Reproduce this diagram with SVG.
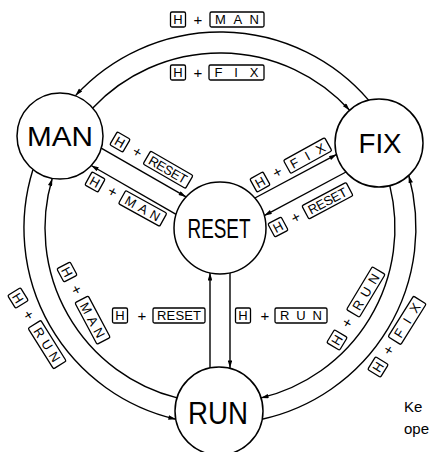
<svg xmlns="http://www.w3.org/2000/svg" width="430" height="452" viewBox="0 0 430 452">
<style>
.node circle{fill:#fff;stroke:#000;stroke-width:1.5}
.nl{font-family:"Liberation Sans",Arial,sans-serif;font-size:28px;text-anchor:middle;fill:#000}
.conn path{fill:none;stroke:#000;stroke-width:1.4;marker-end:url(#ah)}
.lb rect{fill:#fff;stroke:#000;stroke-width:1.3}
.lb text{font-family:"Liberation Sans",Arial,sans-serif;font-size:13px;text-anchor:middle;fill:#000}
.lb .p{font-size:15px}
.key{font-family:"Liberation Sans",Arial,sans-serif;font-size:15px;fill:#000}
</style>
<defs>
<marker id="ah" viewBox="0 0 10 6" refX="10" refY="3" markerWidth="9" markerHeight="4.5" orient="auto" markerUnits="userSpaceOnUse"><path d="M0,0 L10,3 L0,6 z" fill="#000"/></marker>
</defs>
<g id="connectors" class="conn">
<path d="M368.6,100.1 A196,196 0 0,0 75.5,95.6"/>
<path d="M92.8,107.9 A175,175 0 0,1 349.6,110.3"/>
<path d="M32.9,169.7 A196,196 0 0,0 175.9,419.2"/>
<path d="M177.2,397.9 A175,175 0 0,1 52.2,178.5"/>
<path d="M389.8,185.7 A175,175 0 0,1 261,397.9"/>
<path d="M262,419.2 A196,196 0 0,0 408.8,175.5"/>
<path d="M101.2,148.1 L186.1,196.9"/>
<path d="M176.1,214.3 L91.2,165.5"/>
<path d="M254.9,198 L336.6,154.4"/>
<path d="M346,172 L264.3,215.6"/>
<path d="M210,367.9 L210,272.9"/>
<path d="M230,272.9 L230,367.9"/>
</g>
<g id="node-man" class="node"><circle cx="60" cy="136" r="43"/><text class="nl" x="60" y="146" textLength="66" lengthAdjust="spacingAndGlyphs">MAN</text></g>
<g id="node-fix" class="node"><circle cx="379" cy="143" r="44"/><text class="nl" x="380" y="153" textLength="43" lengthAdjust="spacingAndGlyphs">FIX</text></g>
<g id="node-reset" class="node"><circle cx="220" cy="228" r="46"/><text class="nl" x="219" y="238" textLength="63" lengthAdjust="spacingAndGlyphs">RESET</text></g>
<g id="node-run" class="node"><circle cx="219" cy="411" r="44"/><text class="nl" x="218" y="424" textLength="60" lengthAdjust="spacingAndGlyphs" style="font-size:31px">RUN</text></g>
<g id="labels" class="lb">
<g transform="translate(178,19.5)"><rect x="-7.5" y="-7.5" width="15" height="15" rx="1.5"/><text x="0" y="4.7">H</text><text class="p" x="20" y="5">+</text><rect x="32" y="-7.5" width="54" height="15" rx="1.5"/><text x="59" y="4.7" textLength="44">MAN</text></g>
<g transform="translate(178,72.5)"><rect x="-7.5" y="-7.5" width="15" height="15" rx="1.5"/><text x="0" y="4.7">H</text><text class="p" x="20" y="5">+</text><rect x="31" y="-7.5" width="55" height="15" rx="1.5"/><text x="58.5" y="4.7" textLength="44">FIX</text></g>
<g transform="translate(120,142) rotate(30)"><rect x="-7.5" y="-7.5" width="15" height="15" rx="1.5"/><text x="0" y="4.7">H</text><text class="p" x="20" y="5">+</text><rect x="31" y="-7.5" width="49" height="15" rx="1.5"/><text x="55.5" y="4.7" textLength="42">RESET</text></g>
<g transform="translate(95,182) rotate(29)"><rect x="-7.5" y="-7.5" width="15" height="15" rx="1.5"/><text x="0" y="4.7">H</text><text class="p" x="20" y="5">+</text><rect x="31" y="-7.5" width="47" height="15" rx="1.5"/><text x="54.5" y="4.7" textLength="38">MAN</text></g>
<g transform="translate(260,182) rotate(-29)"><rect x="-7.5" y="-7.5" width="15" height="15" rx="1.5"/><text x="0" y="4.7">H</text><text class="p" x="20" y="5">+</text><rect x="31" y="-7.5" width="47" height="15" rx="1.5"/><text x="54.5" y="4.7" textLength="38">FIX</text></g>
<g transform="translate(278,227) rotate(-28)"><rect x="-7.5" y="-7.5" width="15" height="15" rx="1.5"/><text x="0" y="4.7">H</text><text class="p" x="20" y="5">+</text><rect x="31" y="-7.5" width="50" height="15" rx="1.5"/><text x="56" y="4.7" textLength="42">RESET</text></g>
<g transform="translate(120,315.5)"><rect x="-7.5" y="-7.5" width="15" height="15" rx="1.5"/><text x="0" y="4.7">H</text><text class="p" x="22" y="5">+</text><rect x="33" y="-7.5" width="52" height="15" rx="1.5"/><text x="59" y="4.7" textLength="44">RESET</text></g>
<g transform="translate(243,315.5)"><rect x="-7.5" y="-7.5" width="15" height="15" rx="1.5"/><text x="0" y="4.7">H</text><text class="p" x="22" y="5">+</text><rect x="32" y="-7.5" width="52" height="15" rx="1.5"/><text x="58" y="4.7" textLength="42">RUN</text></g>
<g transform="translate(67,272) rotate(62)"><rect x="-7.5" y="-7.5" width="15" height="15" rx="1.5"/><text x="0" y="4.7">H</text><text class="p" x="20" y="5">+</text><rect x="31" y="-7.5" width="47" height="15" rx="1.5"/><text x="54.5" y="4.7" textLength="38">MAN</text></g>
<g transform="translate(18,298) rotate(58)"><rect x="-7.5" y="-7.5" width="15" height="15" rx="1.5"/><text x="0" y="4.7">H</text><text class="p" x="20" y="5">+</text><rect x="31" y="-7.5" width="48" height="15" rx="1.5"/><text x="55" y="4.7" textLength="38">RUN</text></g>
<g transform="translate(337,340) rotate(-59)"><rect x="-7.5" y="-7.5" width="15" height="15" rx="1.5"/><text x="0" y="4.7">H</text><text class="p" x="20" y="5">+</text><rect x="31" y="-7.5" width="50" height="15" rx="1.5"/><text x="56" y="4.7" textLength="40">RUN</text></g>
<g transform="translate(378,367) rotate(-58)"><rect x="-7.5" y="-7.5" width="15" height="15" rx="1.5"/><text x="0" y="4.7">H</text><text class="p" x="20" y="5">+</text><rect x="31" y="-7.5" width="48" height="15" rx="1.5"/><text x="55" y="4.7" textLength="38">FIX</text></g>
</g>
<text class="key" x="404" y="412">Ke</text>
<text class="key" x="404" y="434">ope</text>
</svg>
